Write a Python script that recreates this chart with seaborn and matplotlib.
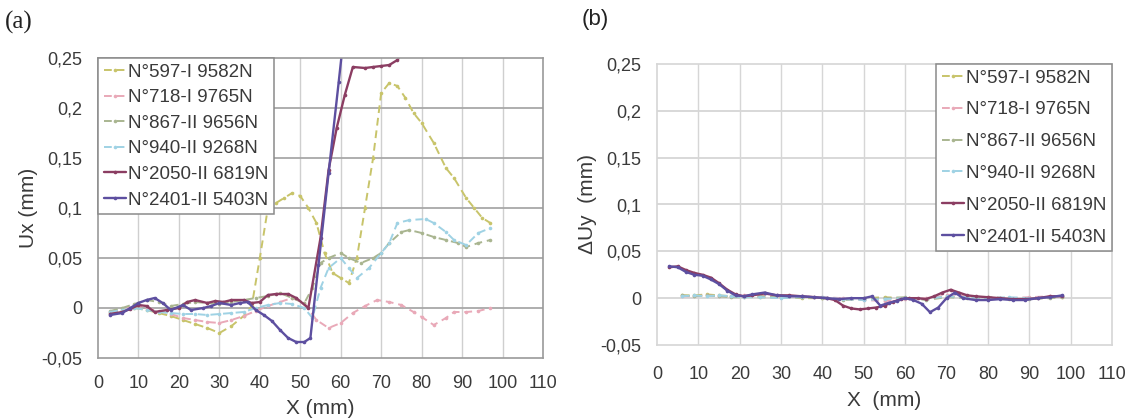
import matplotlib
matplotlib.use("Agg")
import matplotlib.pyplot as plt
import pandas as pd
import seaborn as sns
from matplotlib.ticker import FuncFormatter, MultipleLocator

# ---------------- series names ----------------
series_names = ["N°597-I 9582N", "N°718-I 9765N", "N°867-II 9656N",
                "N°940-II 9268N", "N°2050-II 6819N", "N°2401-II 5403N"]

# ---------------- panel (a): Ux ----------------
x_597_a = [3, 6, 9, 12, 15, 18, 21, 24, 27, 30, 33, 36, 38, 40, 42, 44, 46, 48, 50, 52,
           54, 56, 58, 60, 62, 64, 66, 68, 70, 72, 74, 76, 78, 80, 83, 86, 88, 91, 93, 95, 97]
ux_597 = [-0.005, -0.003, 0.0, -0.002, -0.005, -0.008, -0.012, -0.016, -0.02, -0.025, -0.018,
          -0.008, 0.002, 0.05, 0.1, 0.105, 0.11, 0.115, 0.112, 0.1, 0.085, 0.055, 0.035, 0.03,
          0.025, 0.05, 0.1, 0.15, 0.215, 0.225, 0.222, 0.21, 0.195, 0.185, 0.165, 0.14, 0.13,
          0.11, 0.1, 0.09, 0.085]

x_718_a = [3, 6, 9, 12, 15, 18, 21, 24, 27, 30, 33, 36, 39, 42, 45, 48, 51, 54, 57, 60, 63,
           66, 69, 72, 75, 78, 80, 83, 86, 88, 91, 94, 97]
ux_718 = [-0.004, -0.002, 0.003, 0.0, -0.003, -0.006, -0.01, -0.012, -0.014, -0.015, -0.012,
          -0.008, -0.003, 0.002, 0.006, 0.01, 0.005, -0.012, -0.02, -0.015, -0.005, 0.002,
          0.008, 0.006, 0.003, -0.004, -0.009, -0.017, -0.01, -0.004, -0.004, -0.003, 0.0]

x_867_a = [3, 6, 9, 12, 15, 18, 21, 24, 27, 30, 33, 36, 39, 42, 45, 48, 51, 53, 55, 57, 60,
           62, 65, 68, 70, 72, 75, 77, 80, 83, 86, 89, 91, 94, 97]
ux_867 = [-0.003, 0.0, 0.004, 0.008, 0.006, 0.002, 0.004, 0.006, 0.005, 0.004, 0.006, 0.008,
          0.01, 0.012, 0.015, 0.01, 0.005, 0.02, 0.045, 0.05, 0.055, 0.05, 0.045, 0.05, 0.055,
          0.065, 0.076, 0.078, 0.075, 0.071, 0.068, 0.065, 0.061, 0.065, 0.068]

x_940_a = [3, 6, 9, 12, 15, 18, 21, 24, 27, 30, 33, 36, 39, 42, 45, 48, 51, 53, 55, 57, 60,
           62, 64, 67, 70, 72, 74, 77, 81, 83, 86, 88, 91, 94, 97]
ux_940 = [-0.004, -0.002, 0.0, -0.002, -0.004, -0.005, -0.006, -0.006, -0.007, -0.006, -0.005,
          -0.004, 0.0, 0.003, 0.005, 0.004, 0.0, -0.01, 0.02, 0.04, 0.05, 0.04, 0.03, 0.04,
          0.055, 0.065, 0.085, 0.088, 0.089, 0.085, 0.076, 0.068, 0.063, 0.075, 0.08]

x_2050_a = [3, 6, 8, 10, 12, 14, 17, 20, 22, 24, 27, 29, 31, 33, 36, 38, 40, 42, 44, 47, 49,
            52, 55, 57, 59, 61, 63, 66, 68, 70, 72, 74, 76]
ux_2050 = [-0.006, -0.004, -0.001, 0.003, 0.002, -0.004, -0.002, 0.0, 0.006, 0.008, 0.005,
           0.007, 0.006, 0.008, 0.008, 0.005, 0.006, 0.013, 0.014, 0.014, 0.01, 0.0, 0.07,
           0.138, 0.18, 0.213, 0.241, 0.24, 0.241, 0.242, 0.243, 0.248, 0.26]

x_2401_a = [3, 6, 8, 10, 12, 14, 16, 18, 21, 23, 26, 28, 30, 33, 35, 37, 39, 41, 43, 45, 47,
            49, 51, 52.5, 54.5, 57, 59.5, 61.5]
ux_2401 = [-0.007, -0.005, 0.0, 0.005, 0.008, 0.01, 0.005, -0.002, 0.003, -0.002, 0.0, 0.002,
           0.005, 0.003, 0.005, 0.006, -0.002, -0.007, -0.013, -0.022, -0.03, -0.034, -0.034,
           -0.03, 0.043, 0.135, 0.226, 0.3]

# ---------------- panel (b): delta Uy ----------------
x_dash_b = [6, 9, 12, 15, 18, 21, 25, 30, 35, 40, 45, 50, 55, 60, 65, 70, 75, 80, 85, 90, 95, 98]
duy_597 = [0.003, 0.003, 0.004, 0.003, 0.002, 0.002, 0.001, 0.001, 0.0, 0.0, -0.001, 0.0,
           0.001, 0.0, -0.001, 0.002, 0.001, 0.0, -0.001, 0.0, 0.001, 0.001]
duy_718 = [0.002, 0.002, 0.003, 0.002, 0.002, 0.003, 0.003, 0.002, 0.002, 0.001, 0.0, -0.002,
           -0.003, -0.001, 0.0, 0.003, 0.002, 0.001, 0.0, 0.001, 0.002, 0.002]
duy_867 = [0.003, 0.002, 0.003, 0.002, 0.001, 0.001, 0.002, 0.001, 0.001, 0.0, -0.002, -0.001,
           0.0, 0.001, -0.002, 0.001, 0.0, 0.001, 0.0, -0.001, 0.0, 0.001]
duy_940 = [0.002, 0.003, 0.002, 0.003, 0.002, 0.001, 0.001, 0.0, 0.001, 0.001, -0.001, -0.002,
           -0.001, 0.0, -0.001, 0.002, 0.001, 0.0, 0.001, 0.0, 0.001, 0.002]

x_2050_b = [3, 5, 7, 9, 11, 13, 15, 17, 19, 21, 23, 26, 29, 32, 35, 38, 41, 43, 45, 47, 49,
            51, 53, 55, 57, 59, 61, 63, 65, 67, 69, 71, 73, 75, 77, 80, 83, 86, 89, 92, 95, 98]
duy_2050 = [0.033, 0.034, 0.03, 0.027, 0.025, 0.022, 0.016, 0.009, 0.004, 0.002, 0.003, 0.005,
            0.003, 0.003, 0.002, 0.001, 0.0, -0.002, -0.008, -0.011, -0.012, -0.011, -0.01,
            -0.008, -0.004, -0.001, 0.0, 0.0, -0.001, 0.002, 0.006, 0.009, 0.006, 0.003, 0.002,
            0.001, 0.0, -0.001, -0.001, 0.0, 0.002, 0.002]

x_2401_b = [3, 5, 7, 9, 11, 13, 15, 17, 19, 21, 23, 26, 29, 32, 35, 38, 41, 44, 47, 50, 52,
            54, 56, 58, 60, 62, 64, 66, 68, 70, 72, 74, 77, 80, 83, 86, 89, 92, 95, 98]
duy_2401 = [0.034, 0.033, 0.028, 0.025, 0.024, 0.02, 0.015, 0.008, 0.003, 0.002, 0.004, 0.006,
            0.003, 0.002, 0.002, 0.001, 0.0, -0.001, 0.0, 0.0, 0.002, -0.008, -0.005, -0.003,
            0.0, -0.002, -0.006, -0.015, -0.01, 0.0, 0.006, 0.0, -0.002, -0.002, -0.001,
            -0.002, -0.002, 0.0, 0.001, 0.003]

# ---------------- styling ----------------
colors = ["#c8c46a", "#e9a9b8", "#a9b590", "#9fd2e4", "#8b3d62", "#5d4fa0"]
dashed = [True, True, True, True, False, False]
TXT = "#3a3a3a"

sns.set_theme(style="white")
plt.rcParams["font.family"] = ["Liberation Sans", "DejaVu Sans"]


def tidy(xs, ys):
    return pd.DataFrame({"x": xs, "y": ys})


panel_a = [tidy(x_597_a, ux_597), tidy(x_718_a, ux_718), tidy(x_867_a, ux_867),
           tidy(x_940_a, ux_940), tidy(x_2050_a, ux_2050), tidy(x_2401_a, ux_2401)]
panel_b = [tidy(x_dash_b, duy_597), tidy(x_dash_b, duy_718), tidy(x_dash_b, duy_867),
           tidy(x_dash_b, duy_940), tidy(x_2050_b, duy_2050), tidy(x_2401_b, duy_2401)]

W, H = 1133, 419
fig = plt.figure(figsize=(W / 100, H / 100), dpi=100)
ax_a = fig.add_axes([98 / W, (H - 358) / H, 445 / W, 300 / H])
ax_b = fig.add_axes([657 / W, (H - 345) / H, 455 / W, 281 / H])

comma = FuncFormatter(lambda v, _: ("%g" % (round(v, 2) + 0.0)).replace(".", ","))


def draw(ax, frames, hgrid, vgrid, spine, xpad):
    for df, name, col, dsh in zip(frames, series_names, colors, dashed):
        sns.lineplot(data=df, x="x", y="y", ax=ax, color=col, label=name, sort=False,
                     estimator=None, linewidth=1.7 if not dsh else 1.4,
                     linestyle=(0, (4, 2.5)) if dsh else "-",
                     marker="o", markersize=2.6, markeredgewidth=0)
    ax.set_xlim(0, 110)
    ax.set_ylim(-0.05, 0.25)
    ax.xaxis.set_major_locator(MultipleLocator(10))
    ax.yaxis.set_major_locator(MultipleLocator(0.05))
    ax.yaxis.set_major_formatter(comma)
    ax.xaxis.set_major_formatter(comma)
    for g in ax.get_xticks():
        if 0 < g < 110:
            ax.axvline(g, color=vgrid, lw=1.0, zorder=0)
    for g in ax.get_yticks():
        if -0.05 < g < 0.25:
            ax.axhline(g, color=hgrid, lw=1.3, zorder=0)
    for s in ax.spines.values():
        s.set_color(spine)
        s.set_linewidth(1.2)
    ax.tick_params(axis="both", length=0, labelsize=13, colors=TXT)
    ax.tick_params(axis="y", pad=11)
    ax.tick_params(axis="x", pad=xpad)


draw(ax_a, panel_a, hgrid="#a8a8a8", vgrid="#cfcfcf", spine="#9a9a9a", xpad=12)
draw(ax_b, panel_b, hgrid="#d6d6d6", vgrid="#d6d6d6", spine="#d6d6d6", xpad=15)

ax_a.set_xlabel("X (mm)", fontsize=15, color=TXT, labelpad=5)
ax_a.set_ylabel("Ux (mm)", fontsize=15, color=TXT, labelpad=3)
ax_b.set_xlabel("X  (mm)", fontsize=15, color=TXT, labelpad=6)
ax_b.set_ylabel("ΔUy  (mm)", fontsize=15, color=TXT, labelpad=3)

leg_kw = dict(fontsize=13.5, frameon=True, fancybox=False, framealpha=1, edgecolor="#8a8a8a",
              handlelength=1.2, handletextpad=0.1, borderaxespad=0, borderpad=0.3)
la = ax_a.legend(loc="upper left", bbox_to_anchor=(0, 1), labelspacing=0.45, **leg_kw)
lb = ax_b.legend(loc="upper right", bbox_to_anchor=(1, 1), labelspacing=0.78, **leg_kw)
for lg in (la, lb):
    lg.get_frame().set_linewidth(1.1)
    for t in lg.get_texts():
        t.set_color(TXT)

fig.text(5 / W, 1 - 22 / H, "(a)", fontsize=18, va="center", ha="left",
         family=["Liberation Serif", "DejaVu Serif"], color="#222222")
fig.text(582 / W, 1 - 20 / H, "(b)", fontsize=16, va="center", ha="left", color="#222222")

fig.savefig("out.png", dpi=100, facecolor="white")
